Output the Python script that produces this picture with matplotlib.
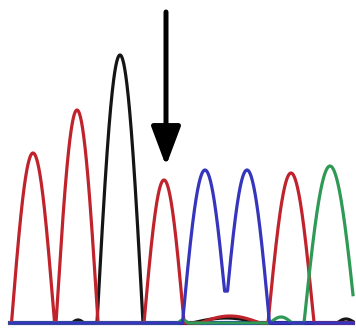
import numpy as np
import matplotlib.pyplot as plt

# peak centres (scan position), heights (signal) and half-widths per channel
red_pos = [33, 77, 164, 291, 230]
red_height = [170, 213, 143, 150, 7]
red_width = [21.5, 21, 20, 23, 30]

black_pos = [120, 78, 226, 346]
black_height = [268, 3, 5, 4]
black_width = [23, 6, 34, 9]

blue_pos = [205, 247]
blue_height = [153, 153]
blue_width = [22.5, 22.5]

green_pos = [330, 281, 183]
green_height = [157, 6, 3]
green_width = [26, 11, 5]

arrow_x = 166
arrow_top = 311
arrow_tip = 157

x = np.linspace(10, 353, 1500)


def trace(pos, height, width):
    y = np.zeros_like(x)
    for c, h, w in zip(pos, height, width):
        d = np.abs(x - c)
        y += np.where(d < w, h * np.cos(np.pi * d / (2 * w)), 0)
    return y


fig = plt.figure(figsize=(3.56, 3.29), dpi=100)
ax = fig.add_axes([0, 0, 1, 1])

lw = 2.3
ax.plot(x, trace(black_pos, black_height, black_width), color='#151515', lw=lw)
ax.plot(x, trace(red_pos, red_height, red_width), color='#c0232c', lw=lw)
ax.plot(x, trace(green_pos, green_height, green_width), color='#2e9a55', lw=lw)
ax.plot(x, trace(blue_pos, blue_height, blue_width), color='#3535bd', lw=lw)
ax.plot([10, 353], [0, 0], color='#2a2ad0', lw=3, zorder=1)

ax.annotate('', xy=(arrow_x, arrow_tip), xytext=(arrow_x, arrow_top),
            arrowprops=dict(arrowstyle='-|>,head_length=2.4,head_width=0.9',
                            lw=3.6, color='black', shrinkA=0, shrinkB=0))

ax.set_xlim(0, 356)
ax.set_ylim(-6, 323)
ax.axis('off')
fig.savefig('out.png', dpi=100)
